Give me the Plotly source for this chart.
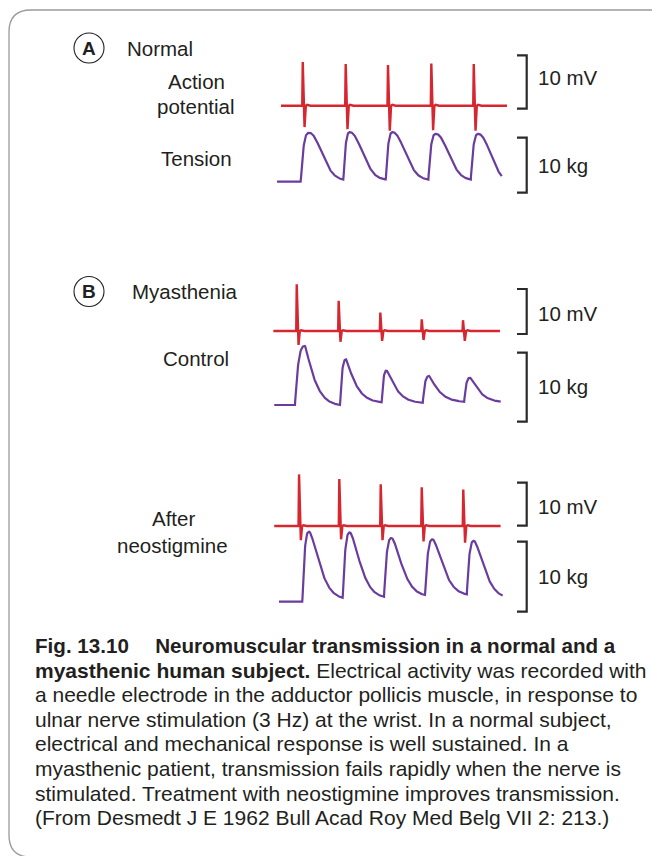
import numpy as np
import plotly.graph_objects as go

W, H = 652, 856
MS_PER_PX = 1000.0 / 3.0 / 42.6      # horizontal time scale: 3 Hz train spacing
X0_PX = 280                           # page x where t = 0 ms

# ---------------- data ----------------
# stimulus times (ms) of the 3 Hz ulnar nerve train
stim_normal = [178, 514, 845, 1184, 1516]
stim_mg = [131, 459, 785, 1109, 1432]
stim_neo = [149, 464, 788, 1109, 1434]

# action potential: positive peak and negative trough amplitude (mV)
ap_up_normal = [8.2, 7.8, 7.6, 7.9, 7.8]
ap_dn_normal = [4.0, 4.4, 4.7, 4.6, 4.7]
ap_up_mg = [10.4, 6.7, 4.1, 2.6, 2.4]
ap_dn_mg = [3.1, 2.4, 2.2, 2.0, 2.2]
ap_up_neo = [12.0, 10.9, 9.7, 9.0, 8.5]
ap_dn_neo = [3.3, 3.1, 3.3, 3.6, 3.9]

# twitch tension: onset time, peak time (ms), peak tension (kg),
# tension at each onset (kg; last entry = value at end of record)
tw_on_normal = [162, 496, 828, 1161, 1493]
tw_pk_normal = [229, 548, 882, 1221, 1553]
tw_amp_normal = [8.9, 9.0, 9.0, 8.7, 8.7]
tw_base_normal = [0.0, 0.4, 0.4, 0.4, 0.4, 1.0]

tw_on_mg = [117, 470, 796, 1117, 1441]
tw_pk_mg = [196, 517, 835, 1167, 1488]
tw_amp_mg = [8.55, 6.6, 5.0, 4.2, 3.95]
tw_base_mg = [0.0, 0.0, 0.39, 0.33, 0.48, 0.48]

tw_on_neo = [175, 491, 814, 1135, 1462]
tw_pk_neo = [229, 548, 875, 1196, 1519]
tw_amp_neo = [10.0, 9.9, 9.1, 8.9, 8.7]
tw_base_neo = [0.0, 0.57, 0.71, 0.96, 1.06, 0.86]

# record extents (ms)
ap_span = {"normal": (8, 1776), "mg": (-52, 1721), "neo": (-45, 1726)}
tw_span = {"normal": (-23, 1735), "mg": (-45, 1727), "neo": (-8, 1743)}

# calibration bars
CAL_MV = 10
CAL_KG = 10

# ---------------- styling ----------------
RED = "#d6262f"
PURPLE = "#6a3c9e"
INK = "#231f20"
FONT = "Liberation Sans, Arial, Helvetica, sans-serif"

# each record gets its own y axis: (baseline on page in px, px per unit)
rows = {
    "y":  (105.7, 5.34),
    "y2": (181.7, 5.50),
    "y3": (331.0, 4.50),
    "y4": (405.0, 6.90),
    "y5": (526.0, 4.30),
    "y6": (601.7, 7.00),
}
# lower end of each calibration bar, in the row's own units
cal_low = {"y": -0.56, "y2": -2.0, "y3": -0.67, "y4": -2.42, "y5": 0.07, "y6": -1.43}
cal_mid_px = {"y": 77.7, "y2": 165.0, "y3": 313.3, "y4": 386.7, "y5": 506.7, "y6": 576.7}


def ap_record(span, stim, up, dn):
    t0, t1 = span
    xs, ys = [t0], [0.0]
    for ts, u, d in zip(stim, up, dn):
        xs += [ts - 4, ts, ts + 14, ts + 24, ts + 34, ts + 60]
        ys += [0.0, u, -d, 0.0, 0.15, 0.0]
    xs.append(t1)
    ys.append(0.0)
    return xs, ys


def twitch_record(span, on, pk, amp, base, lam, p):
    t0, t1 = span
    t = np.arange(t0, t1 + 0.5, 2.0)
    y = np.full_like(t, base[0], dtype=float)
    n = len(on)
    for i in range(n):
        t_end = on[i + 1] if i + 1 < n else t1
        seg = (t >= on[i]) & (t <= t_end)
        ts = t[seg]
        ys = np.empty_like(ts)
        rise = ts < pk[i]
        u = (ts[rise] - on[i]) / (pk[i] - on[i])
        ys[rise] = base[i] + (amp[i] - base[i]) * (1 - (1 - u) ** 3)
        g_end = np.exp(-((t_end - pk[i]) / lam) ** p)
        floor = (base[i + 1] - amp[i] * g_end) / (1 - g_end)
        dec = ~rise
        ys[dec] = floor + (amp[i] - floor) * np.exp(-((ts[dec] - pk[i]) / lam) ** p)
        y[seg] = ys
    return t, y


fig = go.Figure()

records = [
    ("y", "ap", ap_record(ap_span["normal"], stim_normal, ap_up_normal, ap_dn_normal)),
    ("y2", "tw", twitch_record(tw_span["normal"], tw_on_normal, tw_pk_normal,
                               tw_amp_normal, tw_base_normal, 132, 2.0)),
    ("y3", "ap", ap_record(ap_span["mg"], stim_mg, ap_up_mg, ap_dn_mg)),
    ("y4", "tw", twitch_record(tw_span["mg"], tw_on_mg, tw_pk_mg,
                               tw_amp_mg, tw_base_mg, 88, 1.2)),
    ("y5", "ap", ap_record(ap_span["neo"], stim_neo, ap_up_neo, ap_dn_neo)),
    ("y6", "tw", twitch_record(tw_span["neo"], tw_on_neo, tw_pk_neo,
                               tw_amp_neo, tw_base_neo, 107, 1.5)),
]

for ax, kind, (xs, ys) in records:
    fig.add_trace(go.Scatter(
        x=list(xs), y=list(ys), mode="lines", xaxis="x", yaxis=ax,
        line=dict(color=RED if kind == "ap" else PURPLE,
                  width=2.4 if kind == "ap" else 2.2),
        hoverinfo="skip", showlegend=False,
    ))

# calibration brackets
bar_x = (526.7 - X0_PX) * MS_PER_PX
tick_x = (517.0 - X0_PX) * MS_PER_PX
for ax, kind, _ in records:
    lo = cal_low[ax]
    hi = lo + (CAL_MV if kind == "ap" else CAL_KG)
    fig.add_trace(go.Scatter(
        x=[tick_x, bar_x, bar_x, tick_x], y=[hi, hi, lo, lo],
        mode="lines", xaxis="x", yaxis=ax,
        line=dict(color="#2a2a2a", width=2.2), hoverinfo="skip", showlegend=False,
    ))


def px(x):
    return x / W


def py(y):
    return 1 - y / H


ann = []


def label(text, x, y, size=20.5, xanchor="left", bold=False):
    ann.append(dict(text=f"<b>{text}</b>" if bold else text, x=px(x), y=py(y),
                    xref="paper", yref="paper", xanchor=xanchor, yanchor="middle",
                    showarrow=False, font=dict(family=FONT, size=size, color=INK)))


for ax, kind, _ in records:
    label(f"{CAL_MV} mV" if kind == "ap" else f"{CAL_KG} kg", 535.5, cal_mid_px[ax])

label("A", 89, 48, size=19, xanchor="center", bold=True)
label("B", 89, 291.5, size=19, xanchor="center", bold=True)
label("Normal", 124.5, 48)
label("Action", 196.5, 81.5, xanchor="center")
label("potential", 196, 106, xanchor="center")
label("Tension", 196.5, 158.5, xanchor="center")
label("Myasthenia", 129.5, 291.5)
label("Control", 195.5, 358, xanchor="center")
label("After", 173, 518.5, xanchor="center")
label("neostigmine", 172.5, 545, xanchor="center")

caption = [
    "<b>Fig. 13.10\u2003 Neuromuscular transmission in a normal and a</b>",
    "<b>myasthenic human subject.</b> Electrical activity was recorded with",
    "a needle electrode in the adductor pollicis muscle, in response to",
    "ulnar nerve stimulation (3 Hz) at the wrist. In a normal subject,",
    "electrical and mechanical response is well sustained. In a",
    "myasthenic patient, transmission fails rapidly when the nerve is",
    "stimulated. Treatment with neostigmine improves transmission.",
    "(From Desmedt J E 1962 Bull Acad Roy Med Belg VII 2: 213.)",
]
for i, line in enumerate(caption):
    ann.append(dict(text=line, x=px(33), y=py(645.5 + 24.6 * i),
                    xref="paper", yref="paper", xanchor="left", yanchor="middle",
                    showarrow=False,
                    font=dict(family=FONT, size=20.6 if i == 0 else 21, color=INK)))

shapes = []
for cy in (48, 291.5):
    shapes.append(dict(type="circle", xref="paper", yref="paper",
                       x0=px(89 - 15), x1=px(89 + 15), y0=py(cy + 15), y1=py(cy - 15),
                       line=dict(color=INK, width=1.1)))

# rounded outline framing the figure
L, T, R, B, r = 9.0, 10.0, 700.0, 857.0, 22.0
path = (f"M {px(R)},{py(T)} L {px(L + r)},{py(T)} "
        f"Q {px(L)},{py(T)} {px(L)},{py(T + r)} "
        f"L {px(L)},{py(B - r)} Q {px(L)},{py(B)} {px(L + r)},{py(B)} L {px(R)},{py(B)}")
shapes.append(dict(type="path", xref="paper", yref="paper", path=path,
                   line=dict(color="#9a9a9a", width=1.3)))

layout_axes = dict(
    xaxis=dict(domain=[0, 1], range=[(0 - X0_PX) * MS_PER_PX, (W - X0_PX) * MS_PER_PX],
               visible=False, fixedrange=True),
)
for ax, (b, k) in rows.items():
    name = "yaxis" if ax == "y" else "yaxis" + ax[1:]
    layout_axes[name] = dict(domain=[0, 1], range=[(b - H) / k, b / k],
                             visible=False, anchor="x", fixedrange=True)

fig.update_layout(
    width=W, height=H, margin=dict(l=0, r=0, t=0, b=0),
    paper_bgcolor="white", plot_bgcolor="rgba(0,0,0,0)",
    annotations=ann, shapes=shapes, showlegend=False, **layout_axes,
)

fig.write_html("out.html", config={"displayModeBar": False})
